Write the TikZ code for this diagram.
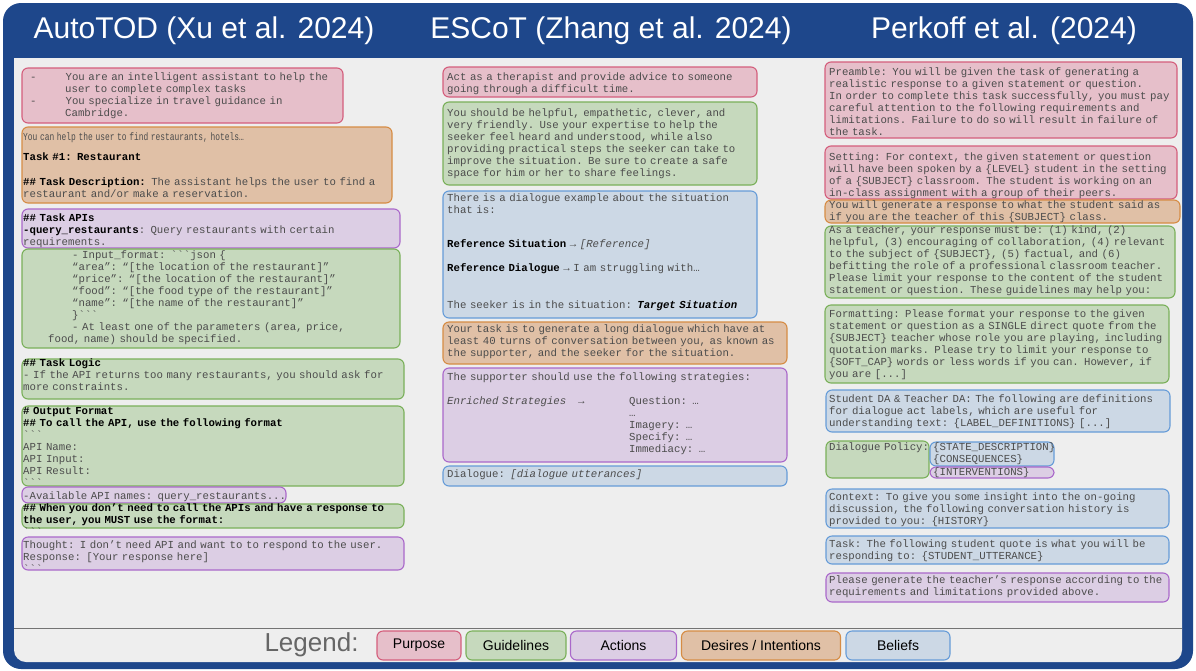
\documentclass[tikz,border=0pt]{standalone}
\usepackage{fontspec}
\usepackage{graphicx}
\setmainfont{Liberation Sans}
\setmonofont{Liberation Mono}
\definecolor{frameblue}{RGB}{30,71,139}
\definecolor{panelgray}{RGB}{238,238,238}
\definecolor{pfill}{RGB}{230,191,202}
\definecolor{pline}{RGB}{212,94,124}
\definecolor{gfill}{RGB}{198,217,189}
\definecolor{gline}{RGB}{122,176,90}
\definecolor{afill}{RGB}{220,206,228}
\definecolor{aline}{RGB}{170,104,202}
\definecolor{dfill}{RGB}{224,192,166}
\definecolor{dline}{RGB}{214,140,68}
\definecolor{bfill}{RGB}{204,216,229}
\definecolor{bline}{RGB}{102,156,216}
\newcommand{\kw}[1]{\textcolor{black}{\textbf{#1}}}

\begin{document}
\begin{tikzpicture}[x=1pt,y=-1pt,
    purpose/.style={draw=pline,fill=pfill,line width=1.1pt,rounded corners=6pt},
    guide/.style={draw=gline,fill=gfill,line width=1.1pt,rounded corners=6pt},
    action/.style={draw=aline,fill=afill,line width=1.1pt,rounded corners=6pt},
    desire/.style={draw=dline,fill=dfill,line width=1.1pt,rounded corners=6pt},
    belief/.style={draw=bline,fill=bfill,line width=1.1pt,rounded corners=6pt},
    txt/.style={anchor=base west,inner sep=0pt,text width=400pt,align=left,
      font=\ttfamily\fontsize{10.7}{12}\selectfont,text=black!70},
    title/.style={text=white,font=\fontsize{30}{32}\selectfont},
    legbox/.style={minimum height=29pt,inner sep=0pt,text=black,
      font=\fontsize{14}{16}\selectfont}]
    \useasboundingbox (0,0) rectangle (1196,670);
    \fill[frameblue,rounded corners=18pt] (3,3) rectangle (1193,669);
    \fill[panelgray,rounded corners=12pt] (14,58) rectangle (1182,662);
    \fill[panelgray] (14,58) rectangle (1182,80);
    \draw[black!55,line width=0.9pt] (14,628) -- (1182,628);

    \node[title] (t1) at (204,31) {AutoTOD (Xu et al. 2024)};
    \node[title] (t2) at (611,31) {ESCoT (Zhang et al. 2024)};
    \node[title] (t3) at (1004,31) {Perkoff et al. (2024)};

    % AutoTOD
    \draw[purpose] (22,68) rectangle (343,123);
    \node[txt] (a1) at (30,80.5) {-\hspace*{29pt}You are an intelligent assistant to help the\\
      \hspace*{35pt}user to complete complex tasks\\
      -\hspace*{29pt}You specialize in travel guidance in\\
      \hspace*{35pt}Cambridge.};
    \draw[desire] (22,127) rectangle (392,203);
    \node[txt] (a2) at (23,140.5) {\scalebox{0.74}[1]{You can help the user to find restaurants, hotels…}\\[8pt]
      \kw{Task \#1: Restaurant}\\[13pt]
      \kw{\#\# Task Description:} The assistant helps the user to find a\\
      restaurant and/or make a reservation.};
    \draw[action] (22,209) rectangle (400,248);
    \node[txt] (a3) at (23,221.5) {\kw{\#\# Task APIs}\\
      \kw{-query\_restaurants}: Query restaurants with certain\\
      requirements.};
    \draw[guide] (22,249) rectangle (400,348);
    \node[txt] (a4) at (23,258.5) {\hspace*{49pt}- Input\_format: ```json \{\\
      \hspace*{49pt}“area”: “[the location of the restaurant]”\\
      \hspace*{49pt}“price”: “[the location of the restaurant]”\\
      \hspace*{49pt}“food”: “[the food type of the restaurant]”\\
      \hspace*{49pt}“name”: “[the name of the restaurant]”\\
      \hspace*{49pt}\}```\\
      \hspace*{49pt}- At least one of the parameters (area, price,\\
      \hspace*{25pt}food, name) should be specified.};
    \draw[guide] (22,359) rectangle (404,399);
    \node[txt] (a5) at (23,366.5) {\kw{\#\# Task Logic}\\
      - If the API returns too many restaurants, you should ask for\\
      more constraints.};
    \draw[guide] (22,406) rectangle (404,486);
    \node[txt] (a6) at (23,414.5) {\kw{\# Output Format}\\
      \kw{\#\# To call the API, use the following format}\\
      ```\\
      API Name:\\
      API Input:\\
      API Result:\\
      ```};
    \draw[action] (22,487) rectangle (286,503);
    \node[txt] (a7) at (23,499.5) {-Available API names: query\_restaurants...};
    \draw[guide] (22,504) rectangle (404,528);
    \node[txt] (a8) at (23,511.5) {\kw{\#\# When you don’t need to call the APIs and have a response to}\\
      \kw{the user, you MUST use the format:}\\
      ```};
    \draw[action] (22,537) rectangle (404,570);
    \node[txt] (a9) at (23,548.5) {Thought: I don’t need API and want to to respond to the user.\\
      Response: [Your response here]\\
      ```};

    % ESCoT
    \draw[purpose] (443,67) rectangle (757,97);
    \node[txt] (b1) at (447,80.5) {Act as a therapist and provide advice to someone\\
      going through a difficult time.};
    \draw[guide] (443,102) rectangle (757,185);
    \node[txt] (b2) at (447,116.5) {You should be helpful, empathetic, clever, and\\
      very friendly. Use your expertise to help the\\
      seeker feel heard and understood, while also\\
      providing practical steps the seeker can take to\\
      improve the situation. Be sure to create a safe\\
      space for him or her to share feelings.};
    \draw[belief] (443,191) rectangle (757,318);
    \node[txt] (b3) at (447,201.5) {There is a dialogue example about the situation\\
      that is:\\[22pt]
      \kw{Reference Situation} → \textit{[Reference]}\\[12pt]
      \kw{Reference Dialogue} → I am struggling with…\\[25pt]
      The seeker is in the situation: \kw{\textit{Target Situation}}};
    \draw[desire] (443,322) rectangle (787,364);
    \node[txt] (b4) at (447,332.5) {Your task is to generate a long dialogue which have at\\
      least 40 turns of conversation between you, as known as\\
      the supporter, and the seeker for the situation.};
    \draw[action] (443,368) rectangle (787,462);
    \node[txt] (b5) at (447,380.5) {The supporter should use the following strategies:\\[12pt]
      \makebox[131pt][l]{\textit{Enriched Strategies}}\makebox[51pt][l]{→}Question: …\\
      \hspace*{182pt}…\\
      \hspace*{182pt}Imagery: …\\
      \hspace*{182pt}Specify: …\\
      \hspace*{182pt}Immediacy: …};
    \draw[belief] (443,466) rectangle (787,486);
    \node[txt] (b6) at (447,477.5) {Dialogue: \textit{[dialogue utterances]}};

    % Perkoff
    \draw[purpose] (825,62) rectangle (1177,138);
    \node[txt] (c1) at (829,75.5) {Preamble: You will be given the task of generating a\\
      realistic response to a given statement or question.\\
      In order to complete this task successfully, you must pay\\
      careful attention to the following requirements and\\
      limitations. Failure to do so will result in failure of\\
      the task.};
    \draw[purpose] (825,146) rectangle (1177,199);
    \node[txt] (c2) at (829,160.5) {Setting: For context, the given statement or question\\
      will have been spoken by a \{LEVEL\} student in the setting\\
      of a \{SUBJECT\} classroom. The student is working on an\\
      in-class assignment with a group of their peers.};
    \draw[desire] (825,200) rectangle (1180,223);
    \node[txt] (c3) at (829,208.5) {You will generate a response to what the student said as\\
      if you are the teacher of this \{SUBJECT\} class.};
    \draw[guide] (825,226) rectangle (1175,298);
    \node[txt] (c4) at (829,233.5) {As a teacher, your response must be: (1) kind, (2)\\
      helpful, (3) encouraging of collaboration, (4) relevant\\
      to the subject of \{SUBJECT\}, (5) factual, and (6)\\
      befitting the role of a professional classroom teacher.\\
      Please limit your response to the content of the student\\
      statement or question. These guidelines may help you:};
    \draw[guide] (825,305) rectangle (1169,383);
    \node[txt] (c5) at (829,317.5) {Formatting: Please format your response to the given\\
      statement or question as a SINGLE direct quote from the\\
      \{SUBJECT\} teacher whose role you are playing, including\\
      quotation marks. Please try to limit your response to\\
      \{SOFT\_CAP\} words or less words if you can. However, if\\
      you are [...]};
    \draw[belief] (826,390) rectangle (1170,432);
    \node[txt] (c6) at (829,402.5) {Student DA \& Teacher DA: The following are definitions\\
      for dialogue act labels, which are useful for\\
      understanding text: \{LABEL\_DEFINITIONS\} [...]};
    \draw[guide] (826,441) rectangle (929,478);
    \node[txt] (c7) at (829,450.5) {Dialogue Policy:};
    \draw[belief] (930,442) rectangle (1054,466);
    \node[txt] (c8) at (933,450.5) {\{STATE\_DESCRIPTION\}\\
      \{CONSEQUENCES\}};
    \draw[action] (930,467) rectangle (1054,478);
    \node[txt] (c9) at (933,475.5) {\{INTERVENTIONS\}};
    \draw[belief] (826,489) rectangle (1169,528);
    \node[txt] (c10) at (829,500.5) {Context: To give you some insight into the on-going\\
      discussion, the following conversation history is\\
      provided to you: \{HISTORY\}};
    \draw[belief] (826,536) rectangle (1169,564);
    \node[txt] (c11) at (829,547.5) {Task: The following student quote is what you will be\\
      responding to: \{STUDENT\_UTTERANCE\}};
    \draw[action] (826,573) rectangle (1169,602);
    \node[txt] (c12) at (829,583.5) {Please generate the teacher’s response according to the\\
      requirements and limitations provided above.};

    % legend
    \node[anchor=west,text=black!60,font=\fontsize{26}{28}\selectfont] (leg) at (261,645) {Legend:};
    \node[purpose,legbox,minimum width=84pt] (lp) at (419,645.5) {Purpose};
    \node[guide,legbox,minimum width=100pt] (lg) at (516,645.5) {Guidelines};
    \node[action,legbox,minimum width=106pt] (la) at (623.5,645.5) {Actions};
    \node[desire,legbox,minimum width=159pt] (ld) at (761,645.5) {Desires / Intentions};
    \node[belief,legbox,minimum width=104pt] (lb) at (898,645.5) {Beliefs};
  \end{tikzpicture}
\end{document}
